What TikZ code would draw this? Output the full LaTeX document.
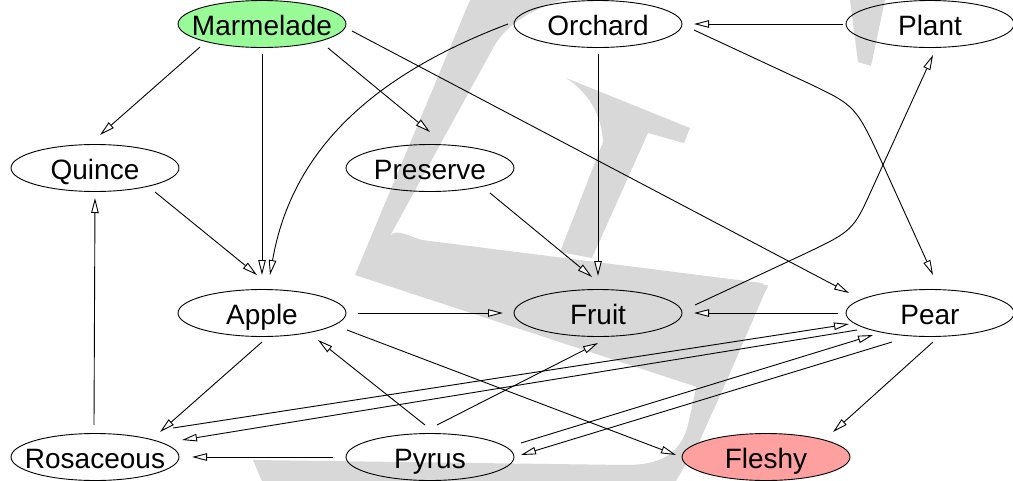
\documentclass[tikz,border=0pt]{standalone}
\usepackage{fontspec}
\setmainfont{Liberation Sans}
\usetikzlibrary{shapes.geometric,arrows.meta}
\definecolor{wmgray}{RGB}{216,216,216}
\definecolor{jamgreen}{RGB}{152,251,152}
\definecolor{fleshpink}{RGB}{255,160,160}
\tikzset{
  concept/.style={ellipse, draw, line width=0.9pt, minimum width=168pt,
    minimum height=47pt, inner sep=0pt, text height=23pt, text depth=0pt,
    font=\fontsize{28}{32}\selectfont,
    execute at begin node={\hbox to 0pt\bgroup\hss},
    execute at end node={\hss\egroup}},
  link/.style={line width=0.9pt,
    -{Triangle[length=15pt,width=7.5pt,fill=white,line width=0.9pt]}},
}
\begin{document}
\begin{tikzpicture}[x=1pt,y=-1pt]
\useasboundingbox (0,0) rectangle (1013,480);
\fill[white] (0,0) rectangle (1013,480);

% background letter strokes
\fill[wmgray] (470,0) -- (562,0) .. controls (525,12) and (503,28) .. (492,50)
  -- (390,236) .. controls (396,228) and (408,236) .. (422,240)
  -- (762,283) -- (768,287) -- (700,388) -- (355,275) -- cycle;
\fill[wmgray] (253,460) -- (262,481) -- (676,481) -- (700,440) -- (727,380)
  -- (768,285) -- (758,286) -- (700,370) -- (688,425)
  .. controls (680,455) and (660,465) .. (625,465) -- cycle;
\fill[wmgray] (566,78) -- (690,128) -- (684,143) -- (648,133) -- (592,258)
  -- (560,252) -- (603,142) .. controls (602,115) and (588,92) .. (566,78) -- cycle;
\fill[wmgray] (850,0) -- (885,0) -- (871,66) -- (858,62) -- cycle;

% nodes
\node[concept, fill=jamgreen] (marm) at (262,24) {Marmelade};
\node[concept] (orch) at (598,24) {Orchard};
\node[concept] (plant) at (930,24) {Plant};
\node[concept] (quince) at (95,168) {Quince};
\node[concept] (pres) at (430,168) {Preserve};
\node[concept] (apple) at (262,313) {Apple};
\node[concept] (fruit) at (598,313) {Fruit};
\node[concept] (pear) at (930,313) {Pear};
\node[concept] (ros) at (95,457) {Rosaceous};
\node[concept] (pyrus) at (430,457) {Pyrus};
\node[concept, fill=fleshpink] (fleshy) at (766,457) {Fleshy};

% edges
\draw[link] ([shift={(-62,23)}]marm.center) -- ([shift={(5,-33)}]quince.center);
\draw[link] ([shift={(0,30)}]marm.center) -- ([shift={(0,-38)}]apple.center);
\draw[link] ([shift={(66,24)}]marm.center) -- ([shift={(0,-36)}]pres.center);
\draw[link] ([shift={(90,7)}]marm.center) -- ([shift={(-81,-20)}]pear.center);
\draw[link] ([shift={(-90,0)}]orch.center) .. controls (360,80) and (290,160)
  .. ([shift={(8,-38)}]apple.center);
\draw[link] ([shift={(0,30)}]orch.center) -- ([shift={(0,-37)}]fruit.center);
\draw[link] ([shift={(96,6)}]orch.center) -- (810,84) .. controls (856,106)
  .. (884,167) -- ([shift={(3,-38)}]pear.center);
\draw[link] ([shift={(-87,0)}]plant.center) -- ([shift={(96,0)}]orch.center);
\draw[link] ([shift={(60,24)}]quince.center) -- ([shift={(-5,-38)}]apple.center);
\draw[link] ([shift={(60,25)}]pres.center) -- ([shift={(-6,-36)}]fruit.center);
\draw[link] ([shift={(97,-8)}]fruit.center) -- (800,256) .. controls (853,231)
  .. (872,189) -- ([shift={(3,31)}]plant.center);
\draw[link] ([shift={(96,0)}]apple.center) -- ([shift={(-95,0)}]fruit.center);
\draw[link] ([shift={(-92,0)}]pear.center) -- ([shift={(96,0)}]fruit.center);
\draw[link] ([shift={(0,29)}]apple.center) -- ([shift={(65,-25)}]ros.center);
\draw[link] ([shift={(85,17)}]apple.center) -- ([shift={(-90,-2)}]fleshy.center);
\draw[link] ([shift={(-5,-32)}]pyrus.center) -- ([shift={(56,27)}]apple.center);
\draw[link] ([shift={(7,-32)}]pyrus.center) -- ([shift={(0,30)}]fruit.center);
\draw[link] ([shift={(-97,0)}]pyrus.center) -- ([shift={(97,0)}]ros.center);
\draw[link] ([shift={(-1,-32)}]ros.center) -- ([shift={(0,30)}]quince.center);
\draw[link] ([shift={(78,-29)}]ros.center) -- ([shift={(-81,11)}]pear.center);
\draw[link] ([shift={(-73,17)}]pear.center) -- ([shift={(87,-17)}]ros.center);
\draw[link] ([shift={(91,-14)}]pyrus.center) -- ([shift={(-57,22)}]pear.center);
\draw[link] ([shift={(-38,29)}]pear.center) -- ([shift={(91,-2)}]pyrus.center);
\draw[link] ([shift={(3,29)}]pear.center) -- ([shift={(67,-25)}]fleshy.center);
\end{tikzpicture}
\end{document}
